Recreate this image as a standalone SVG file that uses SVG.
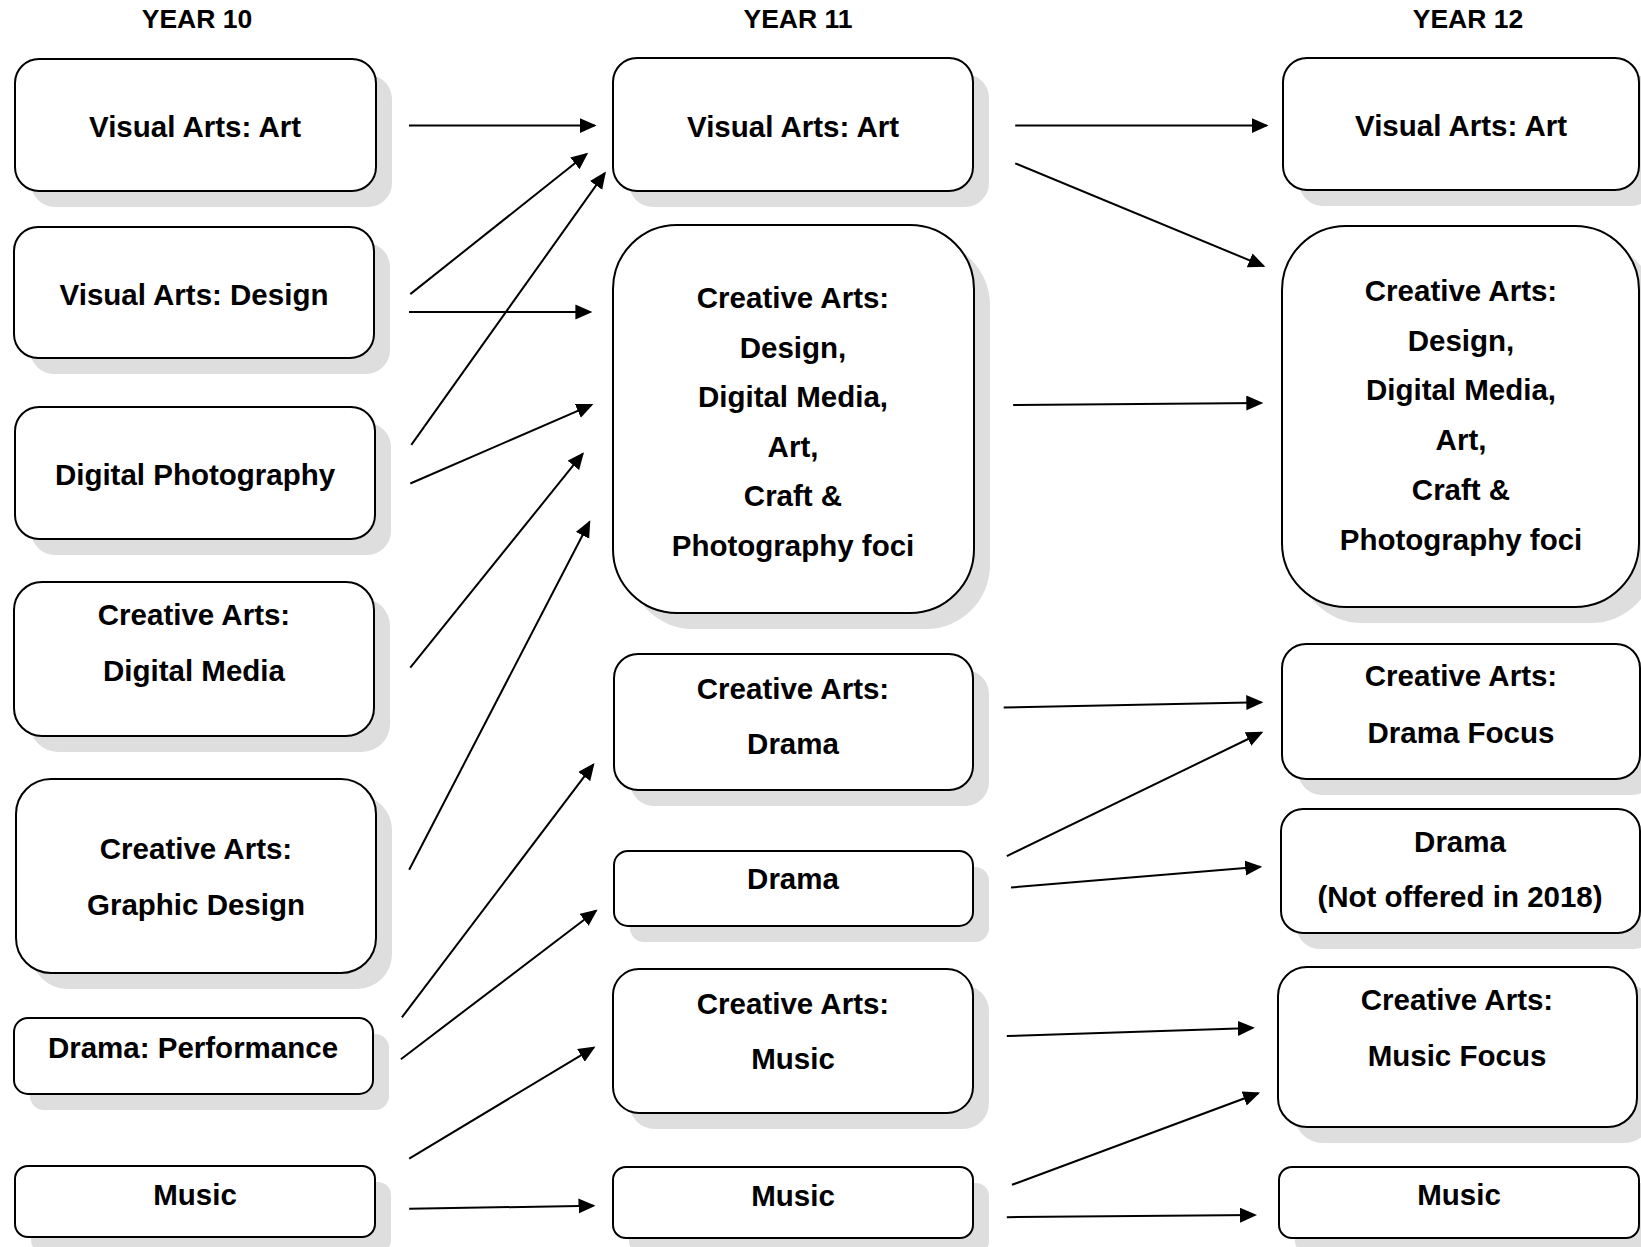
<svg xmlns="http://www.w3.org/2000/svg" width="1641" height="1247" viewBox="0 0 1641 1247">
<style>
.sh{fill:#dedede;stroke:none}
.bx{fill:#fff;stroke:#000;stroke-width:2}
text{font-family:"Liberation Sans",Arial,sans-serif;font-weight:bold;fill:#000;text-anchor:middle}
.t{font-size:29.5px}
.h{font-size:26.5px}
.c line{stroke:#000;stroke-width:2;marker-end:url(#ah)}
</style>
<defs>
<marker id="ah" markerUnits="userSpaceOnUse" markerWidth="19" markerHeight="16" refX="15" refY="7.5" orient="auto">
<path d="M0,0 L17,7.5 L0,15 z" fill="#000"/>
</marker>
</defs>
<rect width="1641" height="1247" fill="#fff"/>
<g id="headers">
<text class="h" x="197" y="28">YEAR 10</text>
<text class="h" x="798" y="28">YEAR 11</text>
<text class="h" x="1468" y="28">YEAR 12</text>
</g>
<g id="b1"><rect class="sh" x="31" y="75" width="361" height="132" rx="24"/><rect class="bx" x="15" y="59" width="361" height="132" rx="24"/><text class="t" x="195" y="137">Visual Arts: Art</text></g>
<g id="b2"><rect class="sh" x="30" y="243" width="360" height="131" rx="24"/><rect class="bx" x="14" y="227" width="360" height="131" rx="24"/><text class="t" x="194" y="305">Visual Arts: Design</text></g>
<g id="b3"><rect class="sh" x="31" y="423" width="360" height="132" rx="24"/><rect class="bx" x="15" y="407" width="360" height="132" rx="24"/><text class="t" x="195" y="485">Digital Photography</text></g>
<g id="b4"><rect class="sh" x="30" y="598" width="360" height="154" rx="28"/><rect class="bx" x="14" y="582" width="360" height="154" rx="28"/><text class="t" x="194" y="625">Creative Arts:</text><text class="t" x="194" y="681">Digital Media</text></g>
<g id="b5"><rect class="sh" x="32" y="795" width="360" height="194" rx="35"/><rect class="bx" x="16" y="779" width="360" height="194" rx="35"/><text class="t" x="196" y="859">Creative Arts:</text><text class="t" x="196" y="915">Graphic Design</text></g>
<g id="b6"><rect class="sh" x="30" y="1034" width="359" height="76" rx="14"/><rect class="bx" x="14" y="1018" width="359" height="76" rx="14"/><text class="t" x="193" y="1058">Drama: Performance</text></g>
<g id="b7"><rect class="sh" x="31" y="1182" width="360" height="71" rx="13"/><rect class="bx" x="15" y="1166" width="360" height="71" rx="13"/><text class="t" x="195" y="1205">Music</text></g>
<g id="c1"><rect class="sh" x="629" y="74" width="360" height="133" rx="24"/><rect class="bx" x="613" y="58" width="360" height="133" rx="24"/><text class="t" x="793" y="137">Visual Arts: Art</text></g>
<g id="c2"><rect class="sh" x="629" y="241" width="361" height="388" rx="64"/><rect class="bx" x="613" y="225" width="361" height="388" rx="64"/>
<text class="t" x="793" y="308">Creative Arts:</text><text class="t" x="793" y="358">Design,</text><text class="t" x="793" y="407">Digital Media,</text><text class="t" x="793" y="457">Art,</text><text class="t" x="793" y="506">Craft &amp;</text><text class="t" x="793" y="556">Photography foci</text></g>
<g id="c3"><rect class="sh" x="630" y="670" width="359" height="136" rx="24"/><rect class="bx" x="614" y="654" width="359" height="136" rx="24"/><text class="t" x="793" y="699">Creative Arts:</text><text class="t" x="793" y="754">Drama</text></g>
<g id="c4"><rect class="sh" x="630" y="867" width="359" height="75" rx="14"/><rect class="bx" x="614" y="851" width="359" height="75" rx="14"/><text class="t" x="793" y="889">Drama</text></g>
<g id="c5"><rect class="sh" x="629" y="985" width="360" height="144" rx="26"/><rect class="bx" x="613" y="969" width="360" height="144" rx="26"/><text class="t" x="793" y="1014">Creative Arts:</text><text class="t" x="793" y="1069">Music</text></g>
<g id="c6"><rect class="sh" x="629" y="1183" width="360" height="71" rx="13"/><rect class="bx" x="613" y="1167" width="360" height="71" rx="13"/><text class="t" x="793" y="1206">Music</text></g>
<g id="d1"><rect class="sh" x="1299" y="74" width="356" height="132" rx="24"/><rect class="bx" x="1283" y="58" width="356" height="132" rx="24"/><text class="t" x="1461" y="136">Visual Arts: Art</text></g>
<g id="d2"><rect class="sh" x="1298" y="242" width="357" height="381" rx="64"/><rect class="bx" x="1282" y="226" width="357" height="381" rx="64"/>
<text class="t" x="1461" y="301">Creative Arts:</text><text class="t" x="1461" y="351">Design,</text><text class="t" x="1461" y="400">Digital Media,</text><text class="t" x="1461" y="450">Art,</text><text class="t" x="1461" y="500">Craft &amp;</text><text class="t" x="1461" y="550">Photography foci</text></g>
<g id="d3"><rect class="sh" x="1298" y="660" width="358" height="135" rx="24"/><rect class="bx" x="1282" y="644" width="358" height="135" rx="24"/><text class="t" x="1461" y="686">Creative Arts:</text><text class="t" x="1461" y="743">Drama Focus</text></g>
<g id="d4"><rect class="sh" x="1297" y="825" width="359" height="124" rx="22"/><rect class="bx" x="1281" y="809" width="359" height="124" rx="22"/><text class="t" x="1460" y="852">Drama</text><text class="t" x="1460" y="907">(Not offered in 2018)</text></g>
<g id="d5"><rect class="sh" x="1294" y="983" width="359" height="160" rx="29"/><rect class="bx" x="1278" y="967" width="359" height="160" rx="29"/><text class="t" x="1457" y="1010">Creative Arts:</text><text class="t" x="1457" y="1066">Music Focus</text></g>
<g id="d6"><rect class="sh" x="1295" y="1183" width="360" height="71" rx="13"/><rect class="bx" x="1279" y="1167" width="360" height="71" rx="13"/><text class="t" x="1459" y="1205">Music</text></g>
<g id="connectors" class="c">
<line x1="409" y1="125.6" x2="594.6" y2="125.6"/>
<line x1="410.3" y1="294.1" x2="586.6" y2="154"/>
<line x1="409" y1="311.9" x2="590.4" y2="311.9"/>
<line x1="411.3" y1="444.8" x2="604.8" y2="173.2"/>
<line x1="410.3" y1="483.5" x2="591.6" y2="404.8"/>
<line x1="410.3" y1="667.7" x2="582.7" y2="453.7"/>
<line x1="409.2" y1="869.7" x2="589.4" y2="522"/>
<line x1="401.9" y1="1017.3" x2="593.3" y2="764.6"/>
<line x1="400.9" y1="1059.2" x2="596" y2="910.7"/>
<line x1="409.2" y1="1158.6" x2="593.8" y2="1047.6"/>
<line x1="409.2" y1="1208.8" x2="593.5" y2="1205.7"/>
<line x1="1015.2" y1="125.6" x2="1266.5" y2="125.6"/>
<line x1="1015.2" y1="163.3" x2="1263.5" y2="266.1"/>
<line x1="1013.1" y1="405" x2="1261.3" y2="402.9"/>
<line x1="1003.7" y1="707.5" x2="1261.3" y2="702.3"/>
<line x1="1006.8" y1="856.1" x2="1261.5" y2="732.5"/>
<line x1="1011" y1="887.5" x2="1260.2" y2="866.8"/>
<line x1="1006.8" y1="1036.1" x2="1252.9" y2="1027.9"/>
<line x1="1012" y1="1184.8" x2="1258.2" y2="1093.3"/>
<line x1="1006.8" y1="1217.2" x2="1255" y2="1215.1"/>
</g>
</svg>
